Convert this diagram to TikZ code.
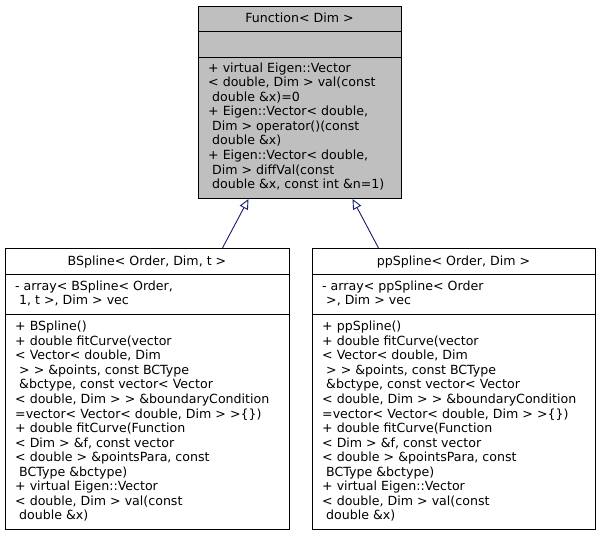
\documentclass[tikz,border=0pt]{standalone}
\usepackage{fontspec}
\setmainfont{DejaVu Sans}
\usetikzlibrary{arrows.meta}
\definecolor{boxgray}{HTML}{BFBFBF}
\definecolor{edgeblue}{HTML}{191970}
\begin{document}
\begin{tikzpicture}[x=1pt,y=-1pt,
  classbox/.style={draw=black, line width=1pt, inner sep=0, anchor=north west},
  sep/.style={draw=black, line width=1pt},
  title/.style={inner sep=0, anchor=base, font=\fontsize{12.6}{14}\selectfont},
  txt/.style={inner sep=0, align=left, anchor=north west, font=\fontsize{12.6}{14.55}\selectfont},
  inherit/.style={draw=edgeblue, line width=0.9pt, -{Triangle[open, length=10pt, width=9pt, fill=white]}}
]
\useasboundingbox (0,0) rectangle (600,536);

% ---- Function< Dim > ----
\node[classbox, fill=boxgray, minimum width=203pt, minimum height=192pt] (func) at (198,6) {};
\draw[sep] (198,31) -- (401,31);
\draw[sep] (198,57) -- (401,57);
\node[title] (functitle) at (299.5,22) {Function< Dim >};
\node[txt] (funcops) at (208,62) {\rule{0pt}{10pt}+ virtual Eigen::Vector\\
< double, Dim > val(const\\
\ double \&x)=0\\
+ Eigen::Vector< double,\\
\ Dim > operator()(const\\
\ double \&x)\\
+ Eigen::Vector< double,\\
\ Dim > diffVal(const\\
\ double \&x, const int \&n=1)};

% ---- BSpline< Order, Dim, t > ----
\node[classbox, fill=white, minimum width=284pt, minimum height=281pt] (bspline) at (5,248) {};
\draw[sep] (5,274) -- (289,274);
\draw[sep] (5,314) -- (289,314);
\node[title] (bstitle) at (147,265.5) {BSpline< Order, Dim, t >};
\node[txt] (bsattr) at (15,280) {\rule{0pt}{10pt}- array< BSpline< Order,\\
\ 1, t >, Dim > vec};
\node[txt] (bsops) at (15,320.5) {\rule{0pt}{10pt}+ BSpline()\\
+ double fitCurve(vector\\
< Vector< double, Dim\\
\ > > \&points, const BCType\\
\ \&bctype, const vector< Vector\\
< double, Dim > > \&boundaryCondition\\
=vector< Vector< double, Dim > >\{\})\\
+ double fitCurve(Function\\
< Dim > \&f, const vector\\
< double > \&pointsPara, const\\
\ BCType \&bctype)\\
+ virtual Eigen::Vector\\
< double, Dim > val(const\\
\ double \&x)};

% ---- ppSpline< Order, Dim > ----
\node[classbox, fill=white, minimum width=283pt, minimum height=281pt] (ppspline) at (312,248) {};
\draw[sep] (312,274) -- (595,274);
\draw[sep] (312,314) -- (595,314);
\node[title] (pptitle) at (453.5,265.5) {ppSpline< Order, Dim >};
\node[txt] (ppattr) at (322,280) {\rule{0pt}{10pt}- array< ppSpline< Order\\
\ >, Dim > vec};
\node[txt] (ppops) at (322,320.5) {\rule{0pt}{10pt}+ ppSpline()\\
+ double fitCurve(vector\\
< Vector< double, Dim\\
\ > > \&points, const BCType\\
\ \&bctype, const vector< Vector\\
< double, Dim > > \&boundaryCondition\\
=vector< Vector< double, Dim > >\{\})\\
+ double fitCurve(Function\\
< Dim > \&f, const vector\\
< double > \&pointsPara, const\\
\ BCType \&bctype)\\
+ virtual Eigen::Vector\\
< double, Dim > val(const\\
\ double \&x)};

% ---- inheritance ----
\draw[inherit] ([xshift=75pt]bspline.north) -- ([xshift=-51.5pt]func.south);
\draw[inherit] ([xshift=-75.5pt]ppspline.north) -- ([xshift=52.5pt]func.south);
\end{tikzpicture}
\end{document}
